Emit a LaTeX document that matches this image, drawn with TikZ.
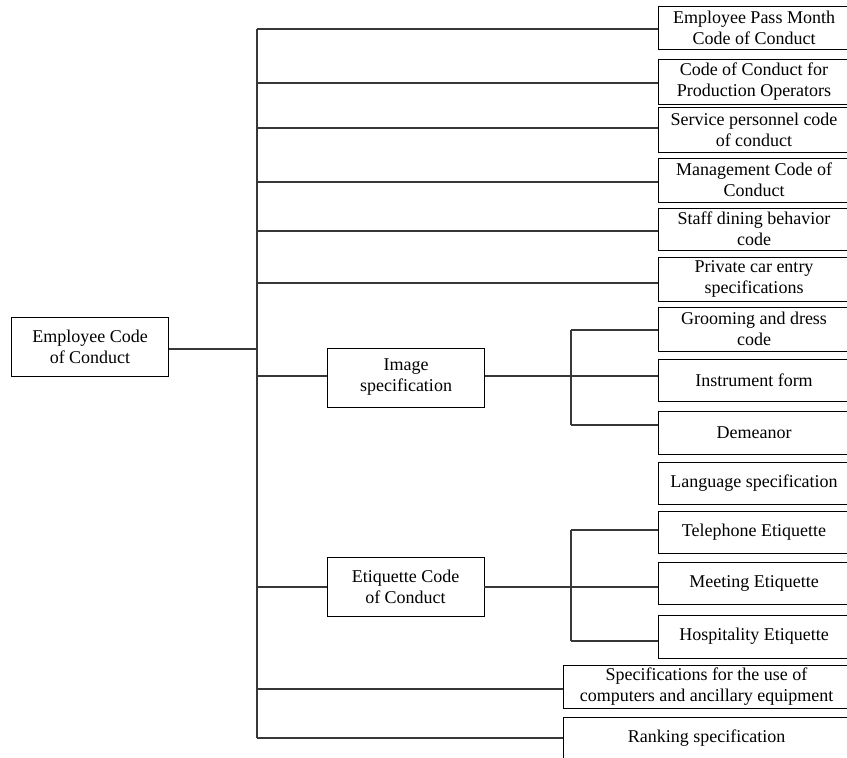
\documentclass[tikz,border=0pt]{standalone}
\usepackage{fontspec}
\setmainfont{Liberation Serif}
\begin{document}
\begin{tikzpicture}[x=1pt,y=-1pt,
  box/.style={draw=black,line width=0.8pt,rectangle,align=center,inner sep=0pt,
    font=\fontsize{18}{21}\selectfont},
  rbox/.style={box,minimum width=192pt,minimum height=44pt},
  wbox/.style={box,minimum width=287pt,minimum height=43pt},
  mbox/.style={box,minimum width=157pt,minimum height=59pt},
  link/.style={draw={rgb,255:red,55;green,55;blue,55},line width=1.1pt}]
\useasboundingbox (0,0) rectangle (847,758);
\clip (0,0) rectangle (847,758);
\fill[white] (0,0) rectangle (847,758);

\node[mbox] (root) at (90,346.5) {Employee Code\\of Conduct};
\coordinate (tx) at (257,0);
\coordinate (sx) at (571,0);

\node[rbox,minimum height=43pt] (b1) at (754,27.5) {Employee Pass Month\\Code of Conduct};
\node[rbox,minimum height=45pt] (b2) at (754,81.5) {Code of Conduct for\\Production Operators};
\node[rbox,minimum height=45pt] (b3) at (754,129.5) {Service personnel code\\of conduct};
\node[rbox] (b4) at (754,180) {Management Code of\\Conduct};
\node[rbox,minimum height=42pt] (b5) at (754,229) {Staff dining behavior\\code};
\node[rbox] (b6) at (754,279) {Private car entry\\specifications};

\node[mbox] (img) at (406,377.5) {Image\\specification};
\node[rbox] (g1) at (754,329) {Grooming and dress\\code};
\node[rbox,minimum height=42pt] (g2) at (754,380) {Instrument form};
\node[rbox,minimum height=43pt] (g3) at (754,432.5) {Demeanor};

\node[rbox,minimum height=42pt] (lang) at (754,483) {Language specification};

\node[mbox] (eti) at (405.5,586.5) {Etiquette Code\\of Conduct};
\node[rbox,minimum height=42pt] (e1) at (754,532) {Telephone Etiquette};
\node[rbox,minimum height=42pt] (e2) at (754,583) {Meeting Etiquette};
\node[rbox,minimum height=43pt] (e3) at (754,636.5) {Hospitality Etiquette};

\node[wbox] (comp) at (706.5,686.5) {Specifications for the use of\\computers and ancillary equipment};
\node[wbox,minimum height=42pt] (rank) at (706.5,738) {Ranking specification};

% main trunk
\draw[link] ([yshift=-2.5pt]root.east) -- ([yshift=-2.5pt]root.east -| tx);
\draw[link] ([yshift=-1.5pt]b1.west -| tx) -- (rank.west -| tx);
\draw[link] ([yshift=-1.5pt]b1.west -| tx) -- ([yshift=-1.5pt]b1.west);
\draw[link] ([yshift=-1.5pt]b2.west -| tx) -- ([yshift=-1.5pt]b2.west);
\draw[link] ([yshift=1.5pt]b3.west -| tx) -- ([yshift=1.5pt]b3.west);
\draw[link] ([yshift=-2pt]b4.west -| tx) -- ([yshift=-2pt]b4.west);
\draw[link] ([yshift=-2pt]b5.west -| tx) -- ([yshift=-2pt]b5.west);
\draw[link] ([yshift=-4pt]b6.west -| tx) -- ([yshift=-4pt]b6.west);
\draw[link] ([yshift=1.5pt]img.west -| tx) -- ([yshift=1.5pt]img.west);
\draw[link] ([yshift=-0.5pt]eti.west -| tx) -- ([yshift=-0.5pt]eti.west);
\draw[link] ([yshift=-2.5pt]comp.west -| tx) -- ([yshift=-2.5pt]comp.west);
\draw[link] (rank.west -| tx) -- (rank.west);

% image sub-tree
\draw[link] ([yshift=-1pt]g1.west -| sx) -- ([yshift=7.5pt]g3.west -| sx);
\draw[link] ([yshift=1.5pt]img.east) -- ([yshift=1.5pt]img.east -| g2.west);
\draw[link] ([yshift=-1pt]g1.west -| sx) -- ([yshift=-1pt]g1.west);
\draw[link] ([yshift=7.5pt]g3.west -| sx) -- ([yshift=7.5pt]g3.west);

% etiquette sub-tree
\draw[link] ([yshift=2pt]e1.west -| sx) -- ([yshift=-4.5pt]e3.west -| sx);
\draw[link] ([yshift=2pt]e1.west -| sx) -- ([yshift=2pt]e1.west);
\draw[link] ([yshift=-0.5pt]eti.east) -- ([yshift=-0.5pt]eti.east -| e2.west);
\draw[link] ([yshift=-4.5pt]e3.west -| sx) -- ([yshift=-4.5pt]e3.west);
\end{tikzpicture}
\end{document}
